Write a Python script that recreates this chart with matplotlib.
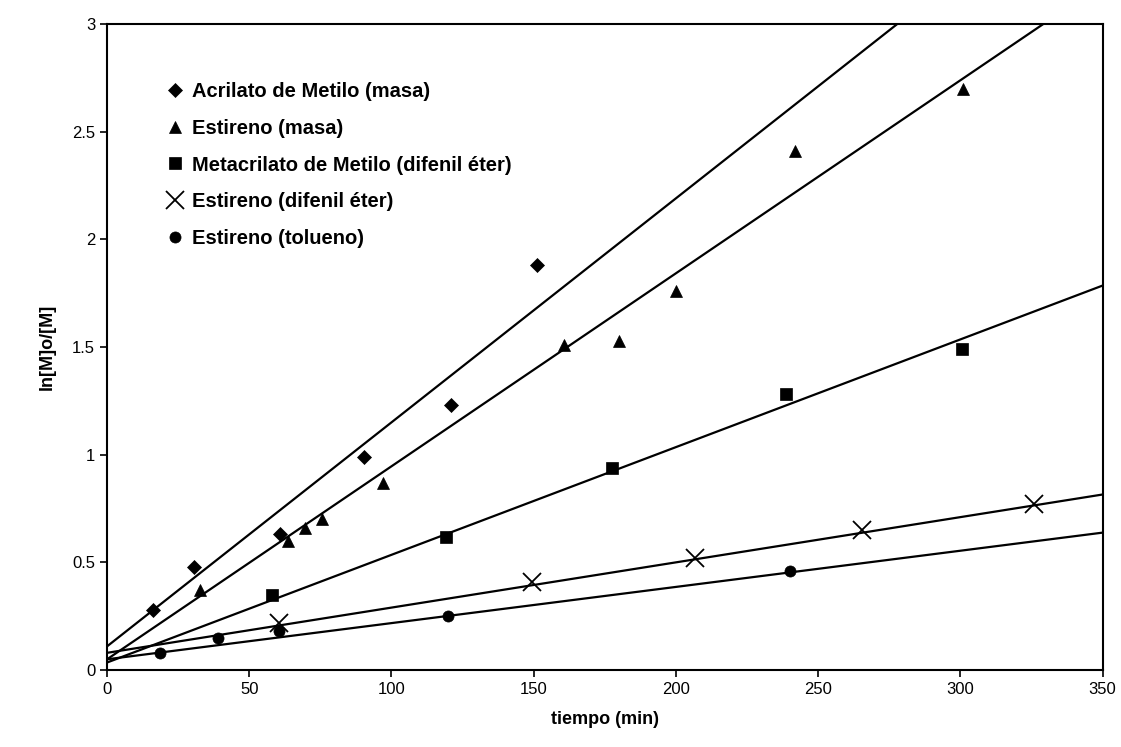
import numpy as np
import matplotlib
matplotlib.use("Agg")
import matplotlib.pyplot as plt

plt.rcParams['font.family'] = ['Liberation Sans', 'DejaVu Sans']

# datos
am_t = [16.3, 30.5, 60.7, 90.5, 121, 151]
am_y = [0.28, 0.48, 0.63, 0.99, 1.23, 1.88]

em_t = [32.6, 63.5, 69.5, 75.5, 97, 160.7, 180, 200, 242, 301]
em_y = [0.37, 0.60, 0.66, 0.70, 0.87, 1.51, 1.53, 1.76, 2.41, 2.70]

mm_t = [58, 119.3, 177.6, 238.6, 300.6]
mm_y = [0.35, 0.62, 0.94, 1.28, 1.49]

ed_t = [60.4, 149.5, 206.7, 265.5, 326]
ed_y = [0.22, 0.41, 0.52, 0.65, 0.77]

et_t = [18.6, 39, 60.4, 120, 240]
et_y = [0.08, 0.15, 0.18, 0.25, 0.46]

# rectas de tendencia (pendiente, ordenada)
fit_am = [0.0104, 0.11]
fit_em = [0.00896, 0.05]
fit_mm = [0.0050, 0.035]
fit_ed = [0.0021, 0.08]
fit_et = [0.00168, 0.05]

labels = [
    "Acrilato de Metilo (masa)", "Estireno (masa)",
    "Metacrilato de Metilo (difenil éter)", "Estireno (difenil éter)",
    "Estireno (tolueno)"
]

fig = plt.figure(figsize=(11.21, 7.47), dpi=100)
ax = fig.add_axes([0.0955, 0.103, 0.888, 0.865])

t_line = np.array([0, 350])
series = [
    (am_t, am_y, fit_am, "D", 7),
    (em_t, em_y, fit_em, "^", 9),
    (mm_t, mm_y, fit_mm, "s", 8),
    (ed_t, ed_y, fit_ed, "x", 13),
    (et_t, et_y, fit_et, "o", 8),
]

for (t, y, fit, mk, ms), lab in zip(series, labels):
    ax.plot(t, y, linestyle="none", marker=mk, color="black", markersize=ms,
            markeredgewidth=1.3 if mk == "x" else 0.5, label=lab)
    ax.plot(t_line, np.polyval(fit, t_line), color="black", linewidth=1.6)

ax.set_xlim(0, 350)
ax.set_ylim(0, 3)
ax.set_xticks(np.arange(0, 351, 50))
ax.set_yticks([0, 0.5, 1, 1.5, 2, 2.5, 3])
ax.set_yticklabels(["0", "0.5", "1", "1.5", "2", "2.5", "3"])
ax.tick_params(labelsize=12, direction="out", length=5, width=1.2)
for s in ax.spines.values():
    s.set_linewidth(1.5)

ax.set_xlabel("tiempo (min)", fontsize=13, fontweight="bold", labelpad=10)
ax.set_ylabel("ln[M]o/[M]", fontsize=13, fontweight="bold", labelpad=12)

leg = ax.legend(loc="upper left", bbox_to_anchor=(0.06, 0.91), frameon=False,
                prop={"size": 14.5, "weight": "bold"}, handlelength=0.8,
                handletextpad=0.45, labelspacing=0.88, borderaxespad=0,
                borderpad=0)

fig.savefig("out.png", dpi=100)
